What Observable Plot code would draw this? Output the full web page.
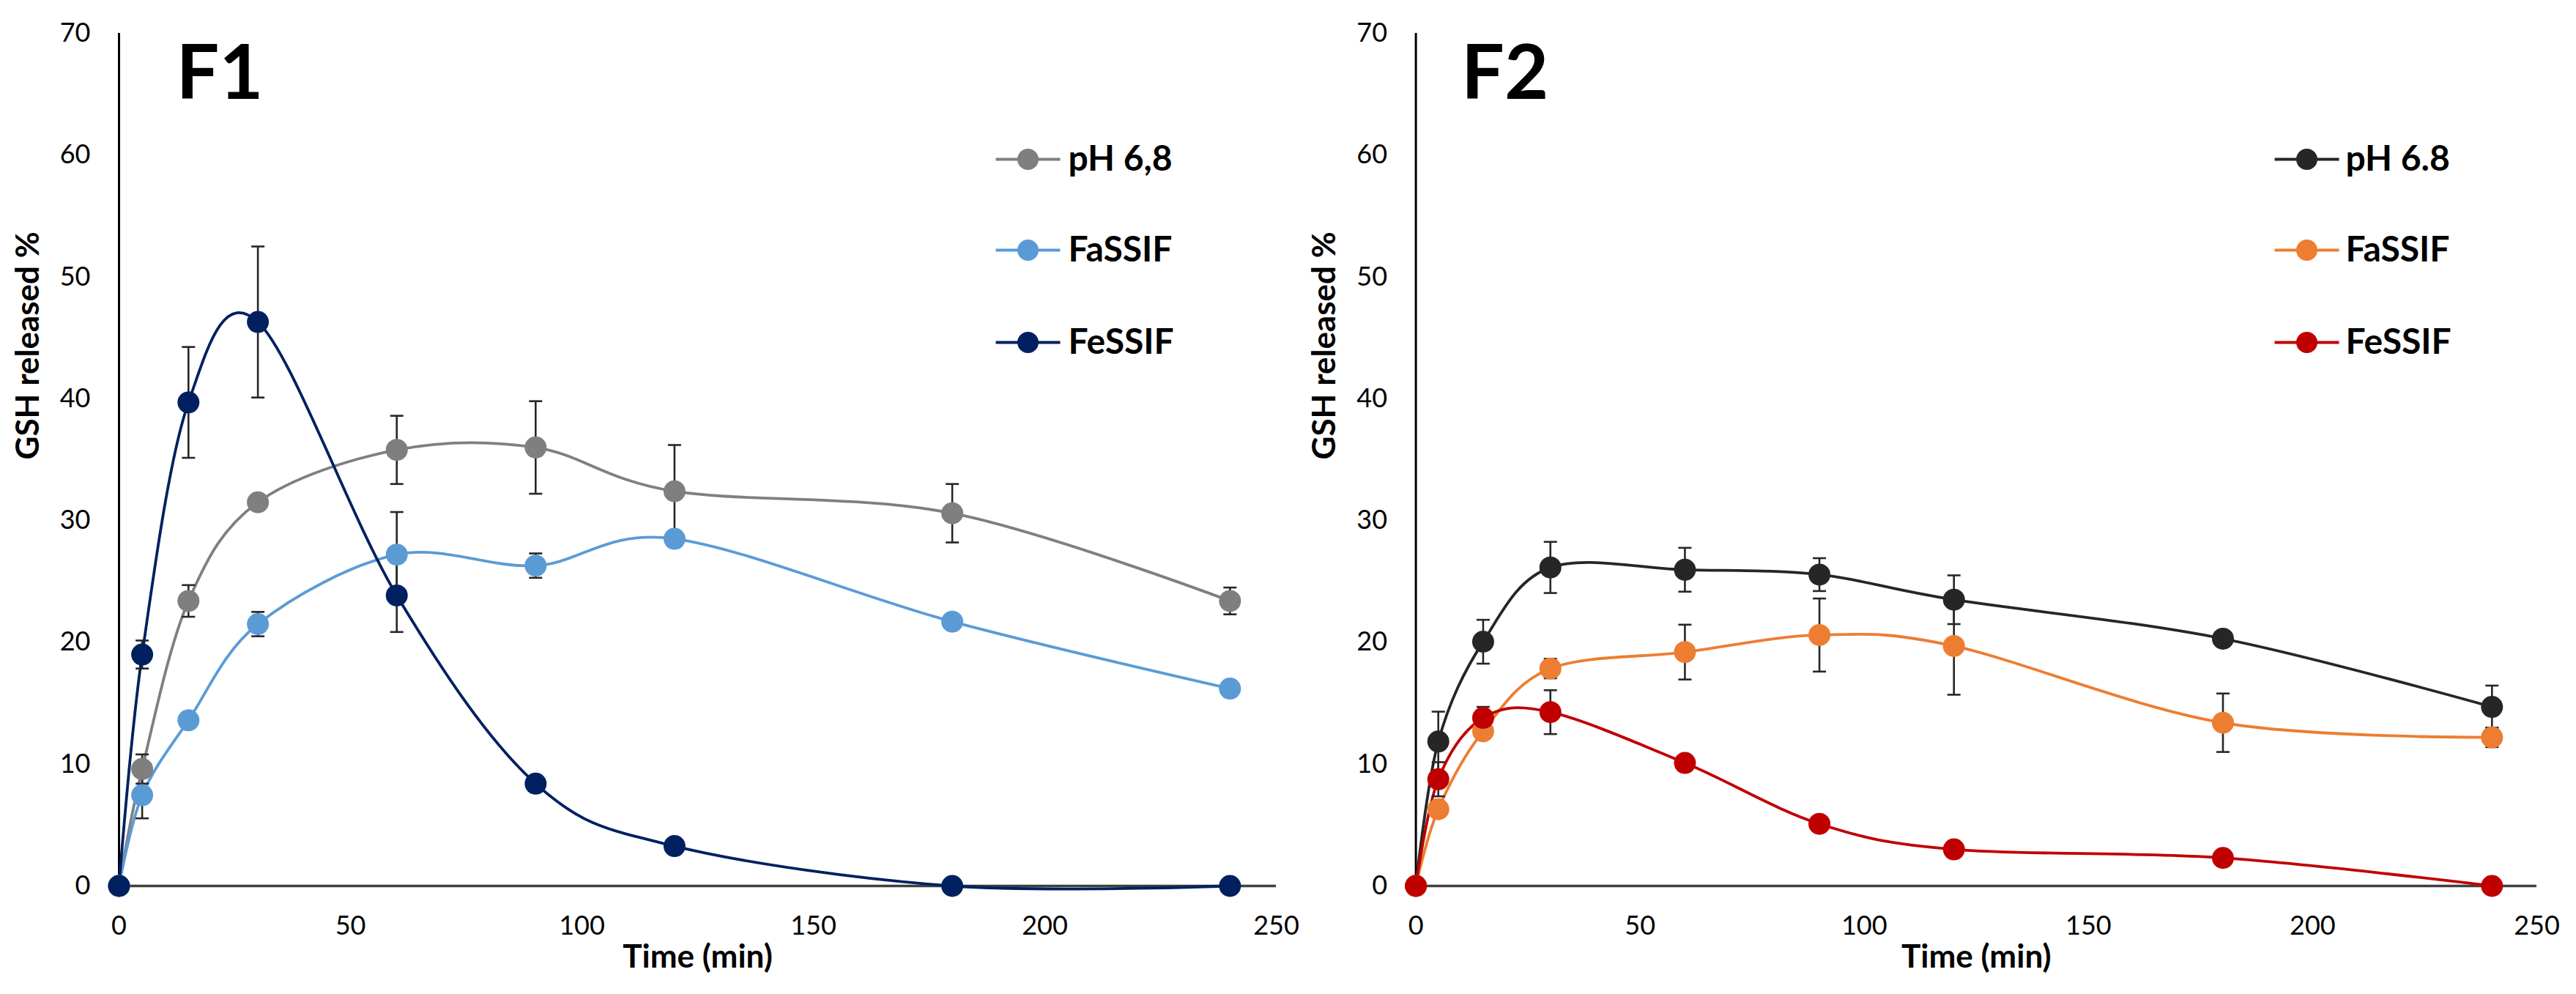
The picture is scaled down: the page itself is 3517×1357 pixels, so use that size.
<!DOCTYPE html>
<html>
<head>
<meta charset="utf-8">
<script src="https://cdn.jsdelivr.net/npm/d3@7"></script>
<script src="https://cdn.jsdelivr.net/npm/@observablehq/plot@0.6"></script>
<style>
  html, body { margin: 0; padding: 0; background: #fff; }
  #wrap { position: relative; width: 3517px; height: 1357px; background: #fff; }
  #p1, #p2 { position: absolute; top: 0; }
  #p1 { left: 0; }
  #p2 { left: 1780px; }
</style>
</head>
<body>
<div id="wrap"><div id="p1"></div><div id="p2"></div></div>
<script>
// ---------- data ----------
const times = [0, 5, 15, 30, 60, 90, 120, 180, 240];
const xTicks = [0, 50, 100, 150, 200, 250];
const yTicks = [0, 10, 20, 30, 40, 50, 60, 70];

// Panel F1
const f1Names  = ["pH 6,8", "FaSSIF", "FeSSIF"];
const f1Colors = ["#7F7F7F", "#5B9BD5", "#002060"];
const f1Ph68     = [0, 9.6, 23.4, 31.5, 35.8, 36.0, 32.4, 30.6, 23.4];
const f1Ph68Sd   = [0, 1.2, 1.3, 0.4, 2.8, 3.8, 3.8, 2.4, 1.1];
const f1FaSSIF   = [0, 7.45, 13.6, 21.5, 27.2, 26.3, 28.5, 21.7, 16.2];
const f1FaSSIFSd = [0, 1.9, 0.3, 1.0, 3.5, 1.0, 0.3, 0.3, 0.3];
const f1FeSSIF   = [0, 19.0, 39.7, 46.3, 23.85, 8.4, 3.27, 0, 0];
const f1FeSSIFSd = [0, 1.15, 4.55, 6.2, 3.0, 0.3, 0.3, 0, 0];

// Panel F2
const f2Names  = ["pH 6.8", "FaSSIF", "FeSSIF"];
const f2Colors = ["#262626", "#ED7D31", "#C00000"];
const f2Ph68     = [0, 11.86, 20.05, 26.15, 25.96, 25.56, 23.5, 20.3, 14.7];
const f2Ph68Sd   = [0, 2.45, 1.8, 2.1, 1.8, 1.35, 2.0, 0.3, 1.75];
const f2FaSSIF   = [0, 6.3, 12.7, 17.85, 19.2, 20.6, 19.7, 13.4, 12.2];
const f2FaSSIFSd = [0, 0.5, 0.5, 0.8, 2.25, 3.0, 4.0, 2.4, 0.8];
const f2FeSSIF   = [0, 8.76, 13.8, 14.27, 10.1, 5.1, 3.0, 2.3, 0];
const f2FeSSIFSd = [0, 1.4, 0.9, 1.8, 0.3, 0.3, 0.3, 0.3, 0];

const yTitle = "GSH released %";
const xTitle = "Time (min)";

// ---------- drawing ----------
const FONT = "Lato, 'Noto Sans', sans-serif";
const hSym = { draw(ctx, size) { const r = Math.sqrt(size / Math.PI); ctx.moveTo(-r, 0); ctx.lineTo(r, 0); } };

function panel(cfg) {
  const { title, names, colors, values, sds, width, marginLeft, marginRight, titleDx, legX, legTextX } = cfg;
  const rows = names.flatMap((name, k) => times.map((t, i) => ({ name, t, v: values[k][i], sd: sds[k][i] })));
  const errs = rows.filter(d => d.sd > 0);
  const caps = errs.flatMap(d => [{ t: d.t, y: d.v - d.sd }, { t: d.t, y: d.v + d.sd }]);
  const legRows = [172, 296, 422];
  const legend = names.flatMap((name, k) => [
    Plot.dot([name], { frameAnchor: "top-left", dx: legX, dy: legRows[k], symbol: hSym, r: 44, fill: "none", stroke: colors[k], strokeWidth: 4 }),
    Plot.dot([name], { frameAnchor: "top-left", dx: legX, dy: legRows[k], r: 14.5, fill: colors[k] }),
    Plot.text([name], { frameAnchor: "top-left", dx: legTextX, dy: legRows[k], text: d => d, textAnchor: "start", lineAnchor: "middle", fontSize: 48, fontWeight: 700, fill: "#000" })
  ]);
  return Plot.plot({
    width, height: 1357,
    marginLeft, marginRight, marginTop: 45, marginBottom: 148,
    x: { domain: [0, 250] },
    y: { domain: [0, 70] },
    color: { domain: names, range: colors },
    style: { fontFamily: FONT, color: "#000", background: "transparent", overflow: "visible" },
    marks: [
      Plot.axisY({ ticks: yTicks, tickSize: 0, tickPadding: 39, fontSize: 36, label: null, fill: "#000" }),
      Plot.axisX({ ticks: xTicks, tickSize: 0, tickPadding: 41, fontSize: 36, label: null, fill: "#000" }),
      Plot.ruleX([0], { stroke: "#000", strokeWidth: 3 }),
      Plot.ruleY([0], { stroke: "#404040", strokeWidth: 3.5 }),
      Plot.line(rows, { x: "t", y: "v", z: "name", stroke: "name", curve: "cardinal", strokeWidth: 3.8 }),
      Plot.ruleX(errs, { x: "t", y1: d => d.v - d.sd, y2: d => d.v + d.sd, stroke: "#262626", strokeWidth: 2.6 }),
      Plot.dot(caps, { x: "t", y: "y", symbol: hSym, r: 9, fill: "none", stroke: "#262626", strokeWidth: 2.6 }),
      Plot.dot(rows, { x: "t", y: "v", fill: "name", r: 15 }),
      ...legend,
      Plot.text([title], { frameAnchor: "top-left", dx: titleDx, dy: 89, text: d => d, textAnchor: "start", lineAnchor: "bottom", fontSize: 104, fontWeight: 700, fill: "#000" }),
      Plot.text([yTitle], { frameAnchor: "left", dx: -124, rotate: -90, text: d => d, lineAnchor: "middle", fontSize: 44, fontWeight: 700, fill: "#000" }),
      Plot.text([xTitle], { frameAnchor: "bottom", dy: 97, text: d => d, lineAnchor: "middle", fontSize: 44, fontWeight: 700, fill: "#000" })
    ]
  });
}

document.getElementById("p1").append(panel({
  title: "F1", names: f1Names, colors: f1Colors,
  values: [f1Ph68, f1FaSSIF, f1FeSSIF], sds: [f1Ph68Sd, f1FaSSIFSd, f1FeSSIFSd],
  width: 1780, marginLeft: 162, marginRight: 38, titleDx: 78, legX: 1241, legTextX: 1296
}));
document.getElementById("p2").append(panel({
  title: "F2", names: f2Names, colors: f2Colors,
  values: [f2Ph68, f2FaSSIF, f2FeSSIF], sds: [f2Ph68Sd, f2FaSSIFSd, f2FeSSIFSd],
  width: 1737, marginLeft: 152.6, marginRight: 54, titleDx: 62, legX: 1216.4, legTextX: 1269.4
}));
</script>
</body>
</html>
